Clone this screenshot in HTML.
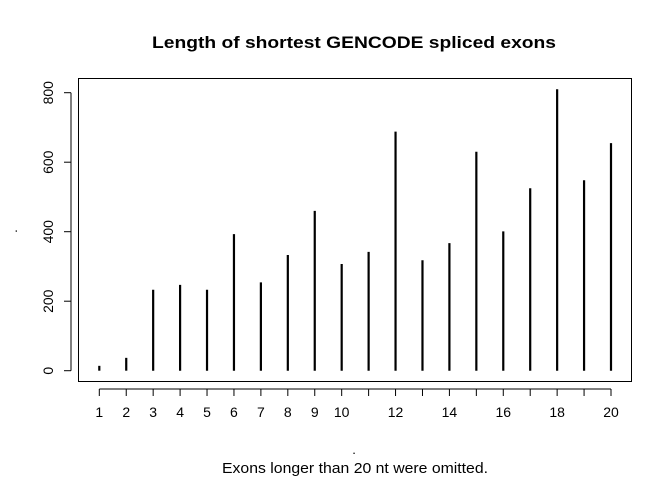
<!DOCTYPE html>
<html><head><meta charset="utf-8"><style>
html,body{margin:0;padding:0;background:#fff;}
svg text{font-family:"Liberation Sans",sans-serif;}
</style></head><body>
<svg id="chart" width="672" height="480" xmlns="http://www.w3.org/2000/svg">
<text x="354" y="48" text-anchor="middle" font-size="17" font-weight="bold" textLength="404" lengthAdjust="spacingAndGlyphs">Length of shortest GENCODE spliced exons</text>
<rect x="78.5" y="78.5" width="553" height="303" fill="none" stroke="#000" stroke-width="1"/>
<g id="yaxis"></g>
<g id="xaxis"></g>
<g id="bars"></g>
<text x="354" y="454" text-anchor="middle" font-size="13">.</text>
<text x="17" y="231" text-anchor="middle" font-size="13" transform="rotate(-90 17 231)">.</text>
<text x="355" y="473" text-anchor="middle" font-size="15" textLength="266" lengthAdjust="spacingAndGlyphs">Exons longer than 20 nt were omitted.</text>
</svg>
<script>
const categories = [1,2,3,4,5,6,7,8,9,10,11,12,13,14,15,16,17,18,19,20];
const values = [14,37,233,247,233,393,254,333,460,307,342,688,318,367,630,401,525,810,548,655];
const yTicks = [0,200,400,600,800];
const xLabels = ["1","2","3","4","5","6","7","8","9","10","","12","","14","","16","","18","","20"];
const NS="http://www.w3.org/2000/svg";
function xs(v){return 99.3+(v-1)*(611-99.3)/19;}
function ys(v){return 370.7-v*(370.7-92.7)/800;}
function mk(tag,attrs,parent){const e=document.createElementNS(NS,tag);for(const k in attrs)e.setAttribute(k,attrs[k]);parent.appendChild(e);return e;}
const ya=document.getElementById('yaxis'),xa=document.getElementById('xaxis'),bg=document.getElementById('bars');
mk('line',{x1:71,x2:71,y1:ys(0),y2:ys(800),stroke:'#000'},ya);
yTicks.forEach(t=>{
  const l=mk('line',{x1:64,x2:71,y1:ys(t),y2:ys(t),stroke:'#000'},ya);
  
  
  const y=ys(t);
  const tx=mk('text',{x:53,y:y,'text-anchor':'middle','font-size':14,transform:`rotate(-90 53 ${y})`},ya);
  
  
  tx.textContent=t;
});
mk('line',{x1:xs(1),x2:xs(20),y1:389,y2:389,stroke:'#000'},xa);
categories.forEach((c,i)=>{
  const x=xs(c);
  const l=mk('line',{x1:x,x2:x,y1:389,y2:396,stroke:'#000'},xa);
  
  
  if(xLabels[i]){
    const tx=mk('text',{x:x,y:417,'text-anchor':'middle','font-size':14},xa);
    
    
    tx.textContent=xLabels[i];
  }
  const b=mk('line',{x1:x,x2:x,y1:ys(0),y2:ys(values[i]),stroke:'#000','stroke-width':2.2},bg);
  
  
});
</script>
</body></html>
